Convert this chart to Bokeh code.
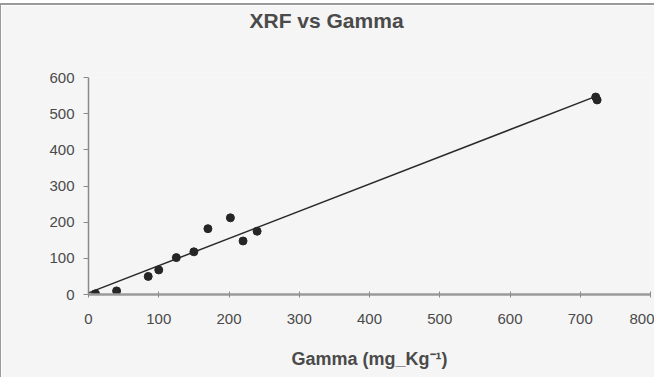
import numpy as np
from bokeh.plotting import figure
from bokeh.models import Range1d, FixedTicker, Title
from bokeh.embed import file_html
from bokeh.resources import INLINE

# Data
gamma = [10, 40, 85, 100, 125, 150, 170, 202, 220, 240, 722, 724]
xrf = [2, 10, 50, 68, 102, 118, 182, 212, 148, 175, 546, 538]
x_ticks = [0, 100, 200, 300, 400, 500, 600, 700, 800]
y_ticks = [0, 100, 200, 300, 400, 500, 600]

# Linear trend line fitted through the data
slope, intercept = np.polyfit(gamma, xrf, 1)
trend_x = [0, max(gamma)]
trend_y = [intercept + slope * v for v in trend_x]

BG = "#f5f5f5"
TXT = "#4a4a4a"
AX = "#8a8a8a"

p = figure(width=655, height=374, output_backend="svg", toolbar_location=None,
           x_range=Range1d(0, 800), y_range=Range1d(0, 600),
           min_border_left=87, min_border_right=6, min_border_top=72, min_border_bottom=85,
           background_fill_color=BG, border_fill_color=BG, outline_line_color=None)
p.styles = {"border-left": "2px solid #9a9a9a", "border-top": "2px solid #9a9a9a",
            "margin-top": "3px", "margin-left": "-1px"}

# spacer between plot area and title, then the title itself
spacer = Title(text=" ", text_font_size="10px", text_color=BG, standoff=33)
main_title = Title(text="XRF vs Gamma", align="left", offset=161,
                   text_font="Liberation Sans", text_font_size="21px",
                   text_font_style="bold", text_color=TXT, standoff=0)
p.add_layout(spacer, "above")
p.add_layout(main_title, "above")

p.grid.visible = False

p.xaxis.ticker = FixedTicker(ticks=x_ticks)
p.yaxis.ticker = FixedTicker(ticks=y_ticks)
for ax in (p.xaxis, p.yaxis):
    ax.major_label_text_font = "Liberation Sans"
    ax.major_label_text_font_size = "15px"
    ax.major_label_text_color = TXT
    ax.axis_line_color = AX
    ax.major_tick_line_color = AX
    ax.minor_tick_line_color = None

p.xaxis.axis_line_width = 2.5
p.xaxis.axis_line_color = "#9a9a9a"
p.xaxis.major_tick_in = 3
p.xaxis.major_tick_out = 3
p.xaxis.major_label_standoff = 16
p.xaxis.axis_label = "Gamma (mg_Kg\u207b\u00b9)"
p.xaxis.axis_label_text_font = "Liberation Sans"
p.xaxis.axis_label_text_font_size = "18px"
p.xaxis.axis_label_text_font_style = "bold"
p.xaxis.axis_label_text_color = TXT
p.xaxis.axis_label_standoff = 22

p.yaxis.axis_line_width = 1.5
p.yaxis.major_tick_in = 0
p.yaxis.major_tick_out = 5
p.yaxis.major_label_standoff = 9

p.line(trend_x, trend_y, line_color="#2a2a2a", line_width=1.5)
p.scatter(gamma, xrf, size=8, marker="circle", fill_color="#262626", line_color="#262626")

open("out.html", "w").write(file_html(p, INLINE))
